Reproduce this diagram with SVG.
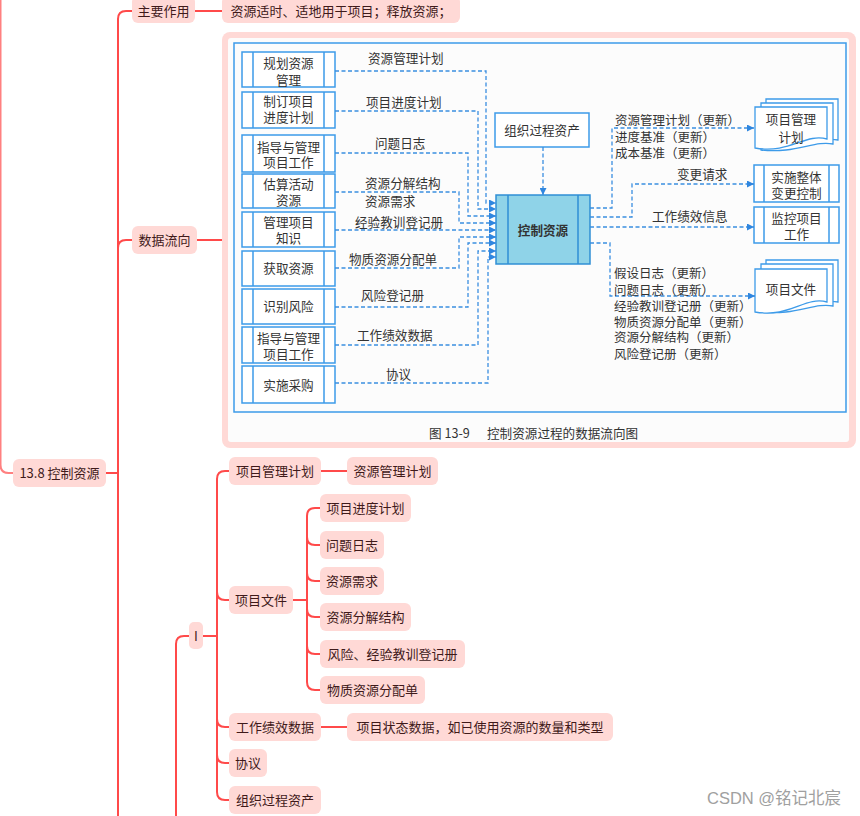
<svg xmlns="http://www.w3.org/2000/svg" width="860" height="816" viewBox="0 0 860 816">
<style>
.mm{fill:none;stroke:#ff4a4a;stroke-width:2}
.nd{fill:#ffd9d6}
.nt{font-family:"Noto Sans CJK SC","Liberation Sans",sans-serif;font-size:13px;fill:#3f1a1a;text-anchor:middle}
.bx{fill:#fff;stroke:#3d9be9;stroke-width:1.5}
.ft{font-family:"Noto Sans CJK SC","Liberation Sans",sans-serif;font-size:12.6px;fill:#333}
.fc{text-anchor:middle}
.fo{font-size:12.5px}
.dl{fill:none;stroke:#3a8ee0;stroke-width:1.3;stroke-dasharray:4 2.5}
</style>
<defs>
<marker id="ar" markerUnits="userSpaceOnUse" markerWidth="7" markerHeight="7" refX="7" refY="3.5" orient="auto">
<path d="M0,0 L7,3.5 L0,7 z" fill="#2f86df"/>
</marker>
</defs>
<rect width="860" height="816" fill="#fff"/>

<g id="mindmap-links">
<path class="mm" d="M0.5,0 V465 Q0.5,473 8.5,473 H13" stroke-opacity="0.7"/>
<path class="mm" d="M106,473 H118"/>
<path class="mm" d="M118,816 V19 Q118,11 126,11 H132"/>
<path class="mm" d="M118,248 Q118,240 126,240 H132"/>
<path class="mm" d="M195,11 H222"/>
<path class="mm" d="M197,240 H222"/>
<path class="mm" d="M189,636 H184 Q176,636 176,644 V816"/>
<path class="mm" d="M203,636 H217"/>
<path class="mm" d="M229,471 H225 Q217,471 217,479 V792 Q217,800 225,800 H229"/>
<path class="mm" d="M217,592 Q217,600 225,600 H229"/>
<path class="mm" d="M217,719 Q217,727 225,727 H229"/>
<path class="mm" d="M217,755 Q217,763 225,763 H229"/>
<path class="mm" d="M321,471 H347"/>
<path class="mm" d="M321,727 H347"/>
<path class="mm" d="M293,600 H307"/>
<path class="mm" d="M320,508 H315 Q307,508 307,516 V682 Q307,690 315,690 H320"/>
<path class="mm" d="M307,537 Q307,545 315,545 H320"/>
<path class="mm" d="M307,573 Q307,581 315,581 H320"/>
<path class="mm" d="M307,609 Q307,617 315,617 H320"/>
<path class="mm" d="M307,646 Q307,654 315,654 H320"/>
</g>

<g id="n-root"><rect class="nd" x="13" y="459" width="93" height="28" rx="6"/><text class="nt" x="59.5" y="477.5">13.8 控制资源</text></g>
<g id="n-zhuyao"><rect class="nd" x="132" y="-4" width="63" height="27" rx="6"/><text class="nt" x="163.5" y="15.5">主要作用</text></g>
<g id="n-zhuyao-c"><rect class="nd" x="222" y="-4" width="238" height="27" rx="6"/><text class="nt" x="341" y="15.5">资源适时、适地用于项目；释放资源；</text></g>
<g id="n-shuju"><rect class="nd" x="132" y="226" width="65" height="28" rx="6"/><text class="nt" x="164.5" y="244.5">数据流向</text></g>
<g id="n-I"><rect class="nd" x="189" y="622" width="14" height="27" rx="5"/><text class="nt" x="196" y="640.5">I</text></g>
<g id="n-pmp"><rect class="nd" x="229" y="457" width="92" height="28" rx="6"/><text class="nt" x="275" y="475.5">项目管理计划</text></g>
<g id="n-pmp-c"><rect class="nd" x="347" y="457" width="91" height="28" rx="6"/><text class="nt" x="392.5" y="475.5">资源管理计划</text></g>
<g id="n-docs"><rect class="nd" x="229" y="586" width="64" height="28" rx="6"/><text class="nt" x="261" y="604.5">项目文件</text></g>
<g id="n-d1"><rect class="nd" x="320" y="494" width="91" height="28" rx="6"/><text class="nt" x="365.5" y="512.5">项目进度计划</text></g>
<g id="n-d2"><rect class="nd" x="320" y="531" width="64" height="28" rx="6"/><text class="nt" x="352" y="549.5">问题日志</text></g>
<g id="n-d3"><rect class="nd" x="320" y="567" width="64" height="28" rx="6"/><text class="nt" x="352" y="585.5">资源需求</text></g>
<g id="n-d4"><rect class="nd" x="320" y="603" width="91" height="28" rx="6"/><text class="nt" x="365.5" y="621.5">资源分解结构</text></g>
<g id="n-d5"><rect class="nd" x="320" y="640" width="145" height="28" rx="6"/><text class="nt" x="392.5" y="658.5">风险、经验教训登记册</text></g>
<g id="n-d6"><rect class="nd" x="320" y="676" width="105" height="28" rx="6"/><text class="nt" x="372.5" y="694.5">物质资源分配单</text></g>
<g id="n-wpd"><rect class="nd" x="229" y="713" width="92" height="28" rx="6"/><text class="nt" x="275" y="731.5">工作绩效数据</text></g>
<g id="n-wpd-c"><rect class="nd" x="347" y="713" width="266" height="28" rx="6"/><text class="nt" x="480" y="731.5">项目状态数据，如已使用资源的数量和类型</text></g>
<g id="n-xieyi"><rect class="nd" x="229" y="749" width="38" height="28" rx="6"/><text class="nt" x="248" y="767.5">协议</text></g>
<g id="n-opa"><rect class="nd" x="229" y="786" width="92" height="28" rx="6"/><text class="nt" x="275" y="804.5">组织过程资产</text></g>

<g id="figure">
<rect x="222" y="32" width="634" height="416" rx="8" fill="#ffd9d6"/>
<rect x="228" y="38" width="621" height="404" rx="3" fill="#fcfcfc"/>
<rect x="234" y="43" width="612" height="369" fill="none" stroke="#3d9be9" stroke-width="1.5"/>
<text class="ft" x="429" y="438" font-size="14px">图 13-9<tspan x="487">控制资源过程的数据流向图</tspan></text>
</g>

<g id="f-in1"><rect class="bx" x="242" y="52" width="93" height="35"/><path class="bx" d="M253,52 V87 M324,52 V87"/><text class="ft fc" x="288.5" y="67.5">规划资源</text><text class="ft fc" x="288.5" y="84.5">管理</text></g>
<g id="f-in2"><rect class="bx" x="242" y="92" width="93" height="36"/><path class="bx" d="M253,92 V128 M324,92 V128"/><text class="ft fc" x="288.5" y="105.5">制订项目</text><text class="ft fc" x="288.5" y="121.5">进度计划</text></g>
<g id="f-in3"><rect class="bx" x="242" y="135" width="93" height="37"/><path class="bx" d="M253,135 V172 M324,135 V172"/><text class="ft fc" x="288.5" y="151.5">指导与管理</text><text class="ft fc" x="288.5" y="166.5">项目工作</text></g>
<g id="f-in4"><rect class="bx" x="242" y="174" width="93" height="34"/><path class="bx" d="M253,174 V208 M324,174 V208"/><text class="ft fc" x="288.5" y="188.5">估算活动</text><text class="ft fc" x="288.5" y="204.5">资源</text></g>
<g id="f-in5"><rect class="bx" x="242" y="212" width="93" height="35"/><path class="bx" d="M253,212 V247 M324,212 V247"/><text class="ft fc" x="288.5" y="226.5">管理项目</text><text class="ft fc" x="288.5" y="242.5">知识</text></g>
<g id="f-in6"><rect class="bx" x="242" y="251" width="93" height="35"/><path class="bx" d="M253,251 V286 M324,251 V286"/><text class="ft fc" x="288.5" y="272.5">获取资源</text></g>
<g id="f-in7"><rect class="bx" x="242" y="289" width="93" height="35"/><path class="bx" d="M253,289 V324 M324,289 V324"/><text class="ft fc" x="288.5" y="310.5">识别风险</text></g>
<g id="f-in8"><rect class="bx" x="242" y="327" width="93" height="36"/><path class="bx" d="M253,327 V363 M324,327 V363"/><text class="ft fc" x="288.5" y="342.5">指导与管理</text><text class="ft fc" x="288.5" y="358.5">项目工作</text></g>
<g id="f-in9"><rect class="bx" x="242" y="366" width="93" height="37"/><path class="bx" d="M253,366 V403 M324,366 V403"/><text class="ft fc" x="288.5" y="389.5">实施采购</text></g>

<g id="f-opa"><rect class="bx" x="495" y="113" width="94" height="34"/><text class="ft fc" x="542" y="134.5">组织过程资产</text></g>
<g id="f-control"><rect x="496" y="195" width="94" height="69" fill="#8fd3e8" stroke="#2f8fd5" stroke-width="1.5"/><path d="M508,195 V264 M578,195 V264" stroke="#2f8fd5" stroke-width="1.5"/><text class="ft fc" x="543" y="234.5" font-weight="bold" fill="#222">控制资源</text></g>

<g id="f-out1">
<path d="M766,99 H838 V140 C820,136 800,150 766,146 Z" fill="#fff" stroke="#3d9be9" stroke-width="1.3"/>
<path d="M761,103 H833 V144 C815,140 795,154 761,150 Z" fill="#fff" stroke="#3d9be9" stroke-width="1.3"/>
<path d="M755,107 H827 V139 C805,133 790,154 755,148 Z" fill="#fff" stroke="#3d9be9" stroke-width="1.3"/>
<text class="ft fc" x="791" y="123.5">项目管理</text><text class="ft fc" x="791" y="141.5">计划</text>
</g>
<g id="f-out2"><rect class="bx" x="754" y="165" width="85" height="37"/><path class="bx" d="M764,165 V202 M829,165 V202"/><text class="ft fc" x="796.5" y="181.5">实施整体</text><text class="ft fc" x="796.5" y="197.5">变更控制</text></g>
<g id="f-out3"><rect class="bx" x="754" y="207" width="85" height="36"/><path class="bx" d="M764,207 V243 M829,207 V243"/><text class="ft fc" x="796.5" y="222.5">监控项目</text><text class="ft fc" x="796.5" y="238.5">工作</text></g>
<g id="f-out4">
<path d="M766,260 H838 V302 C820,298 800,312 766,308 Z" fill="#fff" stroke="#3d9be9" stroke-width="1.3"/>
<path d="M761,264 H833 V306 C815,302 795,316 761,312 Z" fill="#fff" stroke="#3d9be9" stroke-width="1.3"/>
<path d="M755,269 H827 V302 C805,296 790,318 755,312 Z" fill="#fff" stroke="#3d9be9" stroke-width="1.3"/>
<text class="ft fc" x="791" y="293.5">项目文件</text>
</g>

<g id="f-connectors">
<path class="dl" marker-end="url(#ar)" d="M335,71 H486 V203 H496"/>
<path class="dl" marker-end="url(#ar)" d="M335,111 H478 V209 H496"/>
<path class="dl" marker-end="url(#ar)" d="M335,153 H468 V216 H496"/>
<path class="dl" marker-end="url(#ar)" d="M335,192 H459 V223 H496"/>
<path class="dl" marker-end="url(#ar)" d="M335,230 H496"/>
<path class="dl" marker-end="url(#ar)" d="M335,268 H459 V237 H496"/>
<path class="dl" marker-end="url(#ar)" d="M335,307 H468 V243 H496"/>
<path class="dl" marker-end="url(#ar)" d="M335,345 H478 V251 H496"/>
<path class="dl" marker-end="url(#ar)" d="M335,383 H488 V257 H496"/>
<path class="dl" marker-end="url(#ar)" d="M543,147 V195"/>
<path class="dl" marker-end="url(#ar)" d="M590,208 H612 V128 H754"/>
<path class="dl" marker-end="url(#ar)" d="M590,217 H632 V184 H754"/>
<path class="dl" marker-end="url(#ar)" d="M590,227 H754"/>
<path class="dl" marker-end="url(#ar)" d="M590,243 H610 V296 H755"/>
</g>

<g id="f-labels">
<text class="ft" x="368" y="62.5">资源管理计划</text>
<text class="ft" x="366" y="106.5">项目进度计划</text>
<text class="ft" x="375" y="147.5">问题日志</text>
<text class="ft" x="365" y="187.5">资源分解结构</text>
<text class="ft" x="365" y="205.5">资源需求</text>
<text class="ft" x="355" y="226.5">经验教训登记册</text>
<text class="ft" x="349" y="263.5">物质资源分配单</text>
<text class="ft" x="361" y="299.5">风险登记册</text>
<text class="ft" x="357" y="339.5">工作绩效数据</text>
<text class="ft" x="386" y="378.5">协议</text>
<text class="ft fo" x="615" y="124.5">资源管理计划（更新）</text>
<text class="ft fo" x="615" y="141.5">进度基准（更新）</text>
<text class="ft fo" x="615" y="157.5">成本基准（更新）</text>
<text class="ft" x="677" y="178.5">变更请求</text>
<text class="ft" x="652" y="220.5">工作绩效信息</text>
<text class="ft fo" x="614" y="277.5">假设日志（更新）</text>
<text class="ft fo" x="614" y="294.5">问题日志（更新）</text>
<text class="ft fo" x="614" y="310.5">经验教训登记册（更新）</text>
<text class="ft fo" x="614" y="326.5">物质资源分配单（更新）</text>
<text class="ft fo" x="614" y="341.5">资源分解结构（更新）</text>
<text class="ft fo" x="614" y="358.5">风险登记册（更新）</text>
</g>

<text x="707" y="804" font-family="'Liberation Sans','Noto Sans CJK SC',sans-serif" font-size="16.5px" fill="#a0a0a0">CSDN @铭记北宸</text>
</svg>
